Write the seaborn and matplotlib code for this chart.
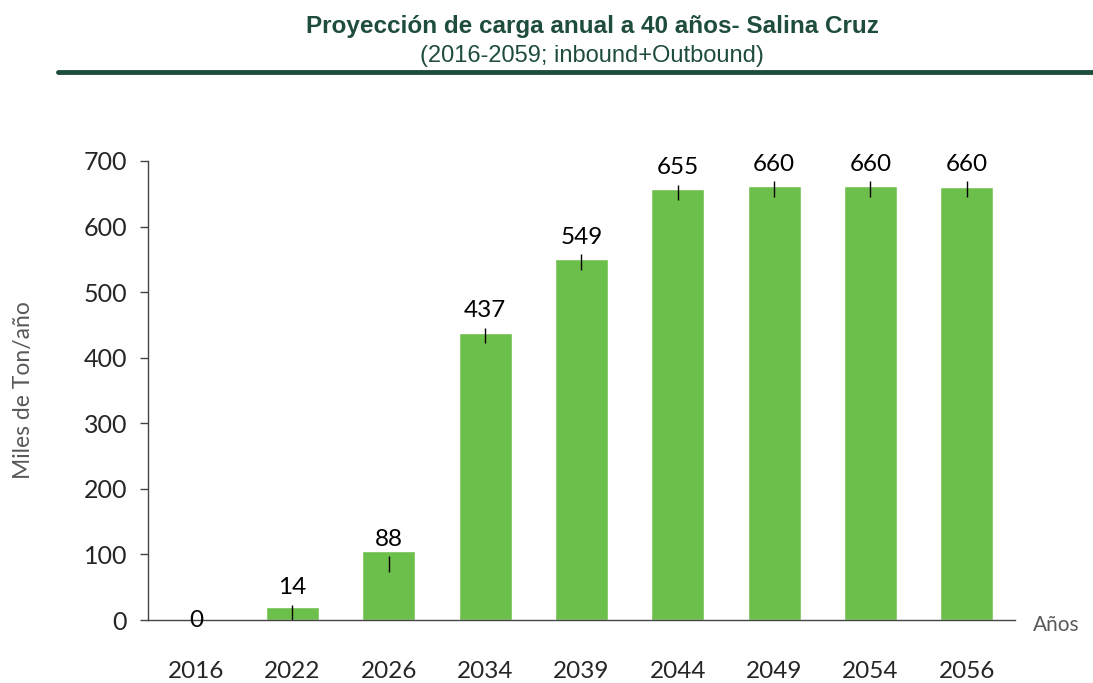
import numpy as np
import pandas as pd
import matplotlib
matplotlib.use('Agg')
import matplotlib.pyplot as plt
import seaborn as sns

years = ['2016', '2022', '2026', '2034', '2039', '2044', '2049', '2054', '2056']
bar_heights = [0, 20, 105, 438, 550, 657, 662, 662, 661]
label_values = [0, 14, 88, 437, 549, 655, 660, 660, 660]
err_half = 12

title = 'Proyección de carga anual a 40 años- Salina Cruz'
subtitle = '(2016-2059; inbound+Outbound)'
bar_color = '#6DBF4B'
dark_green = '#1E4D3B'

sns.set_style('white')
plt.rcParams['font.family'] = ['Lato', 'DejaVu Sans']

df = pd.DataFrame({'Año': years, 'Carga': bar_heights})

fig = plt.figure(figsize=(10.93, 6.83), dpi=100)
ax = fig.add_axes([0.1354, 0.0922, 0.7932, 0.6721])
sns.barplot(data=df, x='Año', y='Carga', color=bar_color, saturation=1,
            width=0.55, ax=ax)

# little marks near the top of each bar
xpos = np.arange(len(years))
for x, v in zip(xpos, label_values):
    if v > 0:
        ax.errorbar(x, v - 3, yerr=err_half, fmt='none', ecolor='black',
                    elinewidth=1, capsize=0)
    off = 23 if v > 0 else 0
    ax.annotate(str(v), (x, v), xytext=(0, off), textcoords='offset pixels',
                ha='center', va='center', fontsize=17.5, color='black')

ax.set_xlim(-0.5, len(years) - 0.5)
ax.set_ylim(0, 700)
ax.set_yticks(range(0, 701, 100))
ax.set_xlabel('')
ax.set_ylabel('Miles de Ton/año', fontsize=16.5, color='#595959')
ax.yaxis.set_label_coords(-0.131, 0.5)

for s in ['top', 'right']:
    ax.spines[s].set_visible(False)
for s in ['left', 'bottom']:
    ax.spines[s].set_color('#444444')
    ax.spines[s].set_linewidth(1)

ax.tick_params(axis='y', which='major', left=True, length=6, width=1,
               color='#444444', labelsize=18, pad=9)
ax.tick_params(axis='x', bottom=False, labelsize=17.5, pad=26)

fig.text(0.966, 0.085, 'Años', fontsize=15, color='#595959', ha='center', va='center')

fig.text(0.542, 0.961, title, ha='center', va='center', fontsize=17.5, fontweight='bold',
         color=dark_green, family=['Liberation Sans Narrow', 'Liberation Sans', 'DejaVu Sans'])
fig.text(0.542, 0.918, subtitle, ha='center', va='center', fontsize=17,
         color=dark_green, family=['Liberation Sans Narrow', 'Liberation Sans', 'DejaVu Sans'])
fig.add_artist(plt.Line2D([58 / 1093, 1.0], [1 - 72 / 683] * 2, color=dark_green,
                          linewidth=3.5, transform=fig.transFigure))

fig.savefig('out.png', dpi=100)
